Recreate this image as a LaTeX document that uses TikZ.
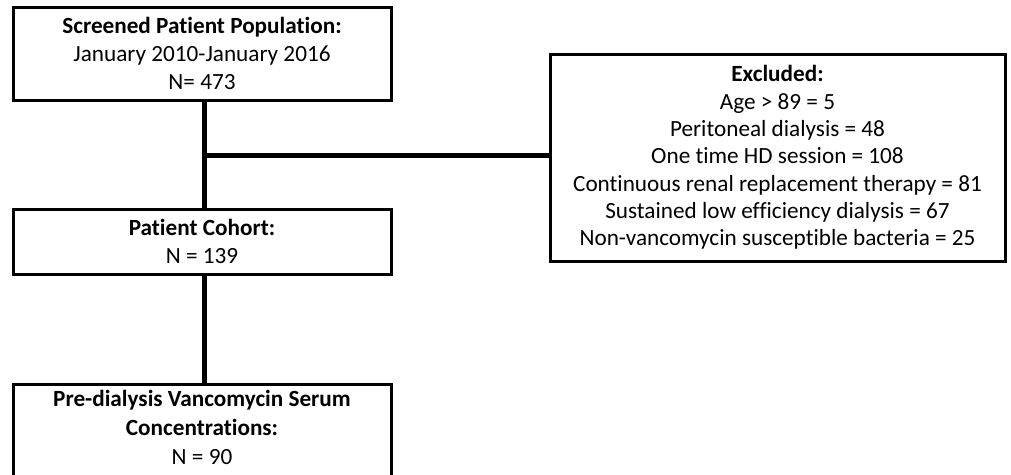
\documentclass[tikz,border=0pt]{standalone}
\usepackage{fontspec}
\setmainfont{Carlito}[Ligatures={NoCommon}]
\begin{document}
\begin{tikzpicture}[x=1pt,y=-1pt,
  box/.style={draw=black, line width=3pt, fill=white, rectangle, inner sep=0pt,
    align=center, font=\fontsize{23.2}{28}\selectfont},
  conn/.style={draw=black, line width=5pt}]
\useasboundingbox (0,0) rectangle (1011,474);
\node[box, minimum width=378pt, minimum height=93pt] (b1) at (202,53.5)
  {\textbf{Screened Patient Population:}\\January 2010-January 2016\\N= 473};
\node[box, minimum width=455pt, minimum height=207pt,
  font=\fontsize{23.2}{27.3}\selectfont] (ex) at (777.5,157.5)
  {\textbf{Excluded:}\\Age > 89 = 5\\Peritoneal dialysis = 48\\One time HD session = 108\\Continuous renal replacement therapy = 81\\Sustained low efficiency dialysis = 67\\Non-vancomycin susceptible bacteria = 25};
\node[box, minimum width=378pt, minimum height=65pt] (b3) at (202,241.5)
  {\textbf{Patient Cohort:}\\N = 139};
\node[box, minimum width=378pt, minimum height=140pt, anchor=north] (b4) at (202,383) {};
\node[align=center, inner sep=0pt, font=\fontsize{23.2}{29}\selectfont, anchor=north] (b4t) at (202,390)
  {\textbf{Pre-dialysis Vancomycin Serum}\\\textbf{Concentrations:}\\N = 90};
\coordinate (j) at ([xshift=2.5pt]b1.south |- 0,155.5);
\draw[conn] ([xshift=2.5pt]b1.south) -- ([xshift=2.5pt]b3.north);
\draw[conn] ([xshift=2.5pt]b3.south) -- ([xshift=2.5pt]b4.north);
\draw[conn] (j) -- (ex.west |- j);
\end{tikzpicture}
\end{document}
